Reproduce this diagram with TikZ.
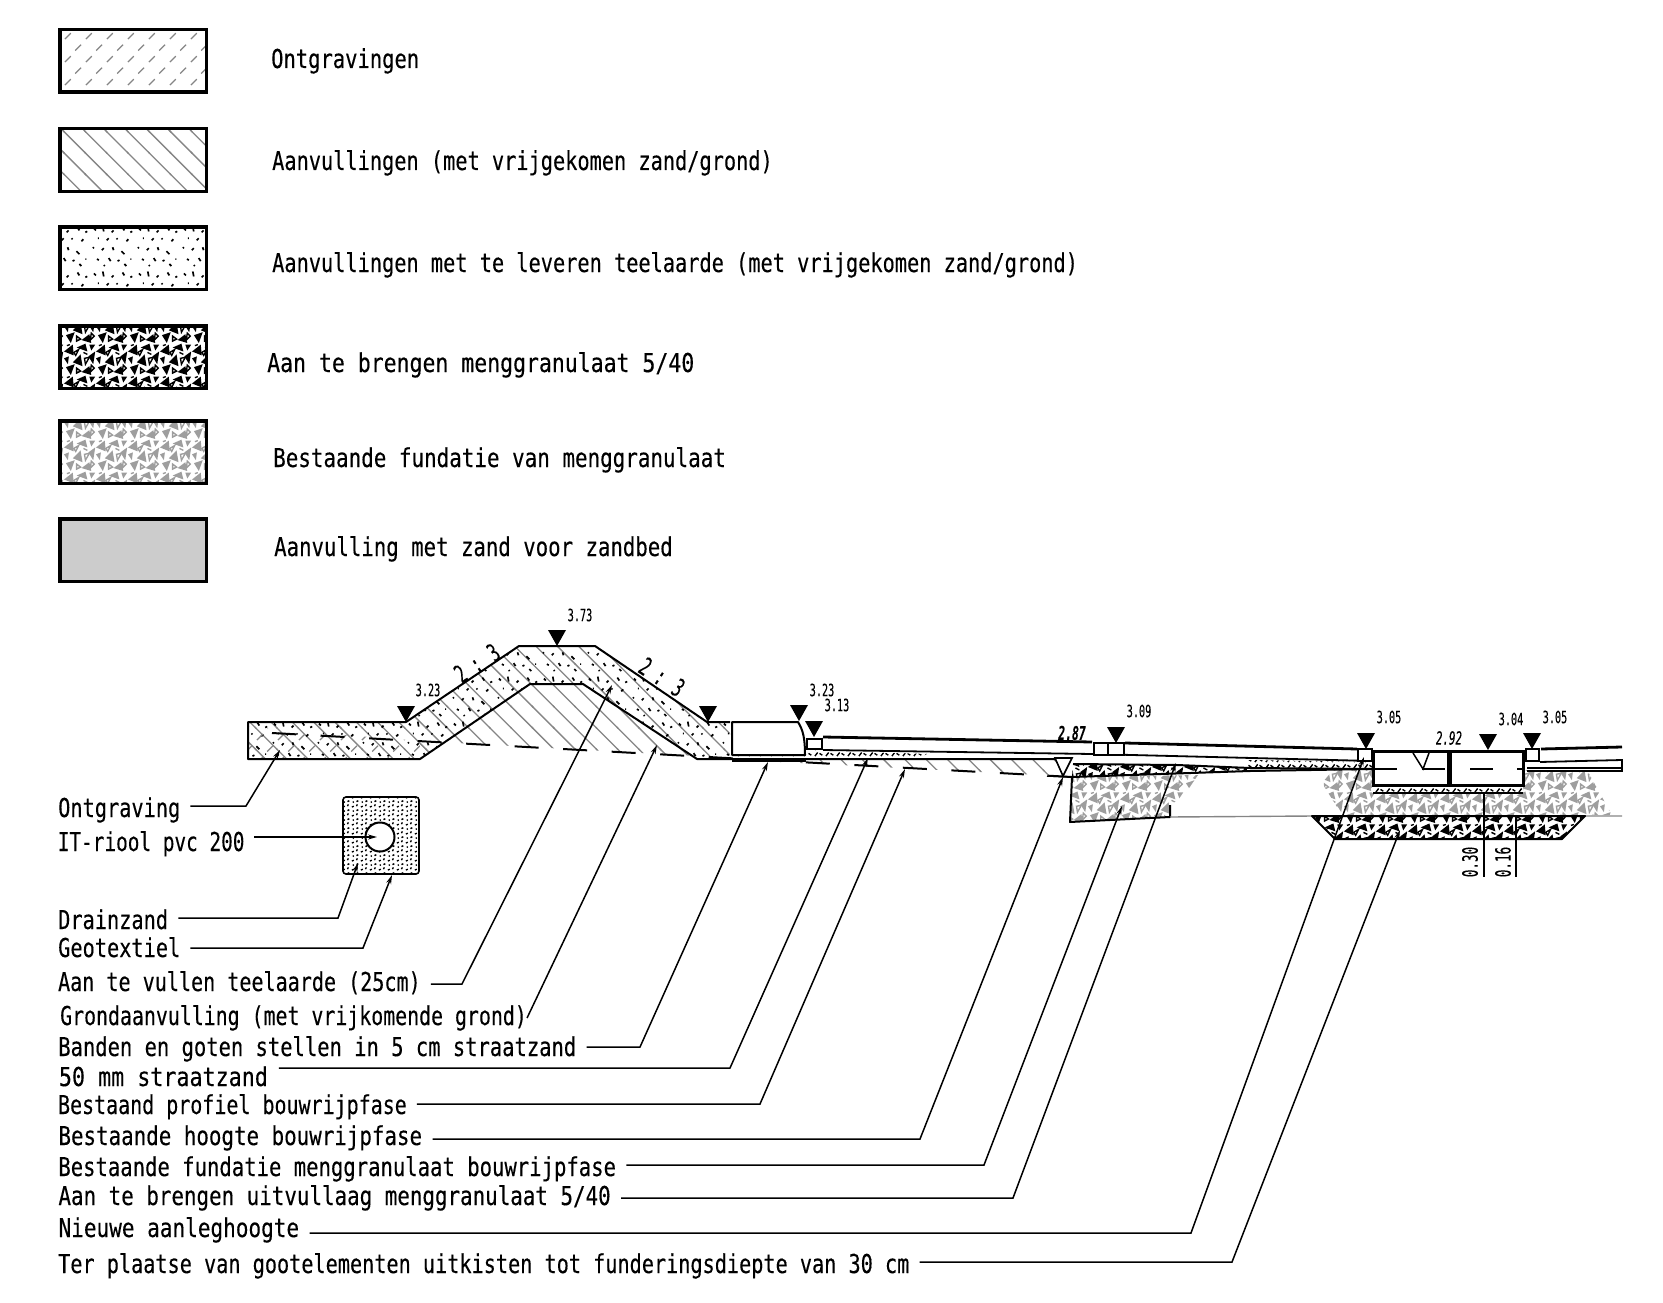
\documentclass[tikz,border=0pt]{standalone}
\usepackage{fontspec}
\usetikzlibrary{patterns,arrows.meta}
\setmainfont[FakeStretch=0.78,FakeBold=0.25]{DejaVu Sans Mono}
\newfontfamily\peilfont[FakeStretch=0.6,FakeBold=0.2]{DejaVu Sans Mono}
\newcommand\pl[4]{\pgfpathmoveto{\pgfqpoint{#1pt}{#2pt}}\pgfpathlineto{\pgfqpoint{#3pt}{#4pt}}}
\newcommand\ptr[6]{\pgfpathmoveto{\pgfqpoint{#1pt}{#2pt}}\pgfpathlineto{\pgfqpoint{#3pt}{#4pt}}\pgfpathlineto{\pgfqpoint{#5pt}{#6pt}}\pgfpathclose}
\pgfdeclarepatternformonly{ontgr}{\pgfpointorigin}{\pgfqpoint{21.3pt}{23.4pt}}{\pgfqpoint{21.3pt}{23.4pt}}{
  \pgfsetlinewidth{1.3pt}
  \pl{2}{2}{8}{8}\pl{12.6}{13.7}{18.6}{19.7}
  \pgfusepath{stroke}}
\pgfdeclarepatternformonly{aanv}{\pgfqpoint{-1pt}{-1pt}}{\pgfqpoint{22.3pt}{22.3pt}}{\pgfqpoint{21.3pt}{21.3pt}}{
  \pgfsetlinewidth{1.3pt}
  \pl{-1}{22.3}{22.3}{-1}
  \pgfusepath{stroke}}
\pgfdeclarepatternformonly{teel}{\pgfpointorigin}{\pgfqpoint{45pt}{45pt}}{\pgfqpoint{45pt}{45pt}}{
  \pgfsetlinewidth{1.7pt}
  \pl{4}{40}{6}{38}\pl{13}{42}{14}{37}\pl{22}{36}{24}{38}\pl{33}{41}{35}{38}\pl{41}{36}{43}{37}
  \pl{8}{30}{9}{30}\pl{17}{28}{19}{30}\pl{27}{30}{28}{29}\pl{37}{27}{39}{29}
  \pl{3}{20}{4}{21}\pl{12}{18}{14}{20}\pl{23}{21}{24}{18}\pl{32}{17}{35}{14}
  \pl{7}{9}{9}{8}\pl{19}{10}{21}{7}\pl{28}{7}{30}{8}\pl{41}{9}{42}{9}\pl{14}{3}{15}{2}\pl{35}{4}{37}{2}
  \pgfusepath{stroke}}
\pgfdeclarepatternformonly{mengr}{\pgfpointorigin}{\pgfqpoint{32pt}{32pt}}{\pgfqpoint{32pt}{32pt}}{
  \ptr{0}{24}{9}{31}{10}{20}\ptr{13}{28}{22}{32}{24}{24}\ptr{25}{19}{32}{24}{30}{11}
  \ptr{9}{13}{17}{21}{19}{9}\ptr{2}{8}{11}{11}{7}{0}\ptr{18}{3}{26}{9}{28}{0}
  \ptr{26}{31}{32}{31}{28}{25}\ptr{0}{17}{5}{19}{4}{11}
  \pgfusepath{fill}
  \pgfsetlinewidth{1.4pt}
  \ptr{21}{17}{26}{18}{22}{11}\ptr{10}{23}{15}{26}{12}{20}\ptr{27}{3}{31}{7}{28}{10}\ptr{13}{7}{17}{4}{13}{2}
  \pl{3}{30}{6}{31}\pl{20}{23}{24}{21}
  \pgfusepath{stroke}}
\pgfdeclarepatternformonly{fijn}{\pgfpointorigin}{\pgfqpoint{11pt}{6pt}}{\pgfqpoint{11pt}{6pt}}{
  \pgfsetlinewidth{1.5pt}
  \pl{1}{1}{4}{5}\pl{6}{4}{9}{2}
  \pgfusepath{stroke}}
\pgfdeclarepatternformonly{drain}{\pgfpointorigin}{\pgfqpoint{9pt}{9pt}}{\pgfqpoint{9pt}{9pt}}{
  \pgfsetlinewidth{1.5pt}
  \pl{1}{1}{3}{2}\pl{6}{2}{7}{4}\pl{2}{6}{3}{7}\pl{6}{7}{8}{8}
  \pgfusepath{stroke}}
\definecolor{hatchgray}{gray}{0.52}
\definecolor{grindgray}{gray}{0.62}
\definecolor{zandgray}{gray}{0.8}
\tikzset{
  legbox/.style={draw, line width=3.5pt, minimum width=146.5pt, minimum height=62.5pt, inner sep=0pt},
  legtext/.style={anchor=west, font=\fontsize{26}{26}\selectfont, inner sep=0pt, text height=19pt, text depth=5pt, yshift=-3pt},
  calltext/.style={anchor=west, font=\fontsize{26}{26}\selectfont, inner ysep=0pt, inner xsep=10pt, text height=19pt, text depth=5pt, yshift=-2pt},
  leader/.style={line width=1.5pt, -{Stealth[length=9pt,width=5pt]}},
  peil/.style={inner sep=0pt, font=\peilfont\fontsize{17}{17}\selectfont},
  dim/.style={inner sep=0pt, rotate=90, font=\peilfont\fontsize{21}{21}\selectfont},
  slope/.style={inner sep=0pt, font=\peilfont\fontsize{25}{25}\selectfont},
  hard/.style={line width=2pt, line join=round},
  thin box/.style={draw, line width=1.6pt, fill=white}
}
\begin{document}
\begin{tikzpicture}[x=1pt,y=-1pt]
  \useasboundingbox (0,0) rectangle (1663,1303);
  % legenda
  \foreach \i/\y/\pat/\col/\xt/\yt/\sc/\txt in {
     1/61/ontgr/hatchgray/271/58/1.01/{Ontgravingen},
     2/160/aanv/hatchgray/272/160/1/{Aanvullingen (met vrijgekomen zand/grond)},
     3/258/teel/black/272/262/1/{Aanvullingen met te leveren teelaarde (met vrijgekomen zand/grond)},
     4/357/mengr/black/267/362/1.06/{Aan te brengen menggranulaat 5/40},
     5/452/mengr/grindgray/273/457/1.03/{Bestaande fundatie van menggranulaat}}{
    \node (box\i) [legbox, pattern=\pat, pattern color=\col] at (133,\y) {};
    \node (leg\i) [legtext, xscale=\sc] at (\xt,\yt) {\txt};
  }
  \node (box6) [legbox, fill=zandgray] at (133,550) {};
  \node (leg6) [legtext, xscale=1.02] at (274,546) {Aanvulling met zand voor zandbed};

  % talud
  \foreach \pat/\col in {aanv/hatchgray, teel/black}
    \fill[pattern=\pat, pattern color=\col] (248,722) -- (406,722) -- (519,646) -- (595,646) -- (707,722) -- (730,722) -- (730,759) -- (697,759) -- (583,684) -- (530,684) -- (420,759) -- (248,759) -- cycle;
  \fill[pattern=ontgr, pattern color=hatchgray] (248,727) -- (420,741) -- (420,759) -- (248,759) -- cycle;
  \fill[pattern=aanv, pattern color=hatchgray] (420,759) -- (530,684) -- (583,684) -- (697,759) -- (697,756) -- (420,741) -- cycle;
  \fill[pattern=aanv, pattern color=hatchgray] (760,759) -- (1060,759) -- (1060,776) -- (760,761) -- cycle;
  \draw[hard] (730,722) -- (707,722) -- (595,646) -- (519,646) -- (406,722) -- (248,722) -- (248,759) -- (420,759) -- (530,684) -- (583,684) -- (697,759) -- (1055,759);
  \draw[line width=2pt, dash pattern=on 24pt off 24.6pt] (272,733) -- (1072,777);

  % bestaande fundatie
  \fill[pattern=mengr, pattern color=grindgray] (1072,777) -- (1198,775) -- (1183,797) -- (1170,805) -- (1170,817) -- (1070,822) -- cycle;
  \fill[pattern=mengr, pattern color=grindgray] (1322,783) -- (1333,770) -- (1372,769) -- (1372,793) -- (1523,793) -- (1523,770) -- (1587,770) -- (1612,815) -- (1343,815) -- (1337,807) -- cycle;
  \draw[hard] (1072,777) -- (1070,822) -- (1170,817) -- (1170,805);
  \draw[line width=1.4pt, hatchgray] (1170,817) -- (1313,816) -- (1622,816);

  % uitvullaag en zandlagen
  \fill[pattern=mengr, pattern color=black] (1073,764) -- (1177,765) -- (1250,768) -- (1250,771) -- (1072,777) -- cycle;
  \fill[pattern=fijn, pattern color=black] (1248,760) -- (1372,762) -- (1372,768) -- (1248,768) -- cycle;
  \fill[pattern=fijn, pattern color=black] (732,755) -- (806,755) -- (806,761) -- (732,761) -- cycle;
  \fill[pattern=fijn, pattern color=black] (807,750) -- (927,754) -- (915,759) -- (807,759) -- cycle;
  \draw[hard] (1073,764) -- (1177,765) -- (1250,768) -- (1372,769);
  \draw[hard] (1072,777) -- (1250,771) -- (1372,769);
  \draw[hard] (732,761) -- (806,761);
  \draw[hard, fill=white] (732,755) -- (732,722) -- (798,722) .. controls (803,730) and (805,738) .. (805,755) -- cycle;

  % weg
  \draw[line width=2.8pt] (823,737) -- (1092,742);
  \draw[line width=2.8pt] (1125,743) -- (1357,749);
  \draw[line width=1.8pt] (823,750) -- (1092,754) -- (1372,761);
  \draw[thin box] (807,739) rectangle (822,749);
  \draw[thin box] (1094,743) rectangle (1108,755);
  \draw[thin box] (1108,743) rectangle (1124,755);
  \draw[thin box] (1358,749) rectangle (1372,761);
  \draw[thin box] (1526,749) rectangle (1539,761);
  \draw[line width=2.8pt] (1541,749) -- (1622,747);
  \draw[line width=1.8pt] (1540,762) -- (1622,760) -- (1622,771) -- (1527,771);
  \draw[line width=1.8pt] (1527,768) -- (1622,768);
  \draw[line width=1.6pt, fill=white] (1055,758) -- (1072,758) -- (1063,776) -- cycle;
  \draw[line width=1.5pt] (1047,776) -- (1072,777);

  % goten
  \fill[pattern=fijn, pattern color=black] (1373,785) rectangle (1523,793);
  \draw[hard] (1373,793) -- (1523,793);
  \draw[line width=3pt, fill=white] (1373,751) rectangle (1448,785);
  \draw[line width=3pt, fill=white] (1450,751) rectangle (1523,785);
  \draw[line width=2pt] (1375,769) -- (1397,769);
  \draw[line width=2pt] (1422,769) -- (1445,769);
  \draw[line width=1.5pt] (1413,753) -- (1423,769) -- (1429,753);
  \draw[line width=2pt] (1470,769) -- (1493,769);
  \draw[line width=2pt] (1517,769) -- (1523,769);

  % uitkisting
  \fill[pattern=mengr, pattern color=black] (1312,816) -- (1585,816) -- (1562,839) -- (1335,839) -- cycle;
  \draw[hard] (1312,816) -- (1585,816) -- (1562,839) -- (1335,839) -- cycle;
  \draw[line width=1.4pt] (1484,793) -- (1484,877);
  \draw[line width=1.4pt] (1516,816) -- (1516,877);
  \node (dim30) [dim] at (1470,862) {0.30};
  \node (dim16) [dim] at (1503,862) {0.16};

  % riool
  \draw[line width=1.6pt, rounded corners=3pt, pattern=drain, pattern color=black] (343,797) rectangle (419,874);
  \node (buis) [circle, draw, line width=2pt, fill=white, minimum size=29pt, inner sep=0pt] at (380,837) {};

  % peilen
  \foreach \x/\y in {406/722, 557/646, 708/722, 799/721, 814/737, 1116/743, 1366/749, 1488/750, 1532/749}
    \fill (\x,\y) -- ++(-9,-16) -- ++(18,0) -- cycle;
  \foreach \n/\x/\y/\txt in {a/580/615/3.73, b/428/690/3.23, c/822/690/3.23, d/837/705/3.13, e/1139/711/3.09, f/1389/717/3.05, g/1511/719/3.04, h/1555/717/3.05}
    \node (peil\n) [peil] at (\x,\y) {\txt};
  \node (peili) [peil, font=\peilfont\bfseries\itshape\fontsize{19}{19}\selectfont] at (1072,733) {2.87};
  \node (peilj) [peil, font=\peilfont\itshape\fontsize{18}{18}\selectfont] at (1449,738) {2.92};
  \node (talud1) [slope, rotate=33] at (477,663) {2 : 3};
  \node (talud2) [slope, rotate=-33] at (662,677) {2 : 3};

  % verwijzingen
  \foreach \i/\ly/\bx/\by/\tx/\ty/\sc/\txt in {
     1/808/246/806/280/750/1/{Ontgraving},
     2/842/340/837/377/837/.956/{IT-riool pvc 200},
     3/920/338/918/358/863/1/{Drainzand},
     4/948/363/948/392/875/1/{Geotextiel},
     5/982/462/984/612/685/.99/{Aan te vullen teelaarde (25cm)},
     6/1047/640/1047/768/762/1.01/{Banden en goten stellen in 5 cm straatzand},
     7/1077/730/1068/868/758/1.07/{50 mm straatzand},
     8/1105/760/1104/905/769/.985/{Bestaand profiel bouwrijpfase},
     9/1136/920/1139/1063/777/1.027/{Bestaande hoogte bouwrijpfase},
     10/1167/984/1165/1122/806/1.015/{Bestaande fundatie menggranulaat bouwrijpfase},
     11/1196/1013/1198/1176/763/1.028/{Aan te brengen uitvullaag menggranulaat 5/40},
     12/1228/1191/1233/1364/757/1.037/{Nieuwe aanleghoogte},
     13/1264/1232/1262/1400/830/.996/{Ter plaatse van gootelementen uitkisten tot funderingsdiepte van 30 cm}}{
    \node (call\i) [calltext, xscale=\sc] at (48,\ly) {\txt};
    \coordinate (bend\i) at (\bx,\by);
    \coordinate (tip\i) at (\tx,\ty);
    \draw[leader] (call\i.east |- bend\i) -- (bend\i) -- (tip\i);
  }
  \node (call14) [calltext, xscale=.98, inner xsep=0pt] at (60,1016) {Grondaanvulling (met vrijkomende grond)};
  \coordinate (tip14) at (657,745);
  \draw[leader] (call14.east) -- (tip14);
\end{tikzpicture}
\end{document}
